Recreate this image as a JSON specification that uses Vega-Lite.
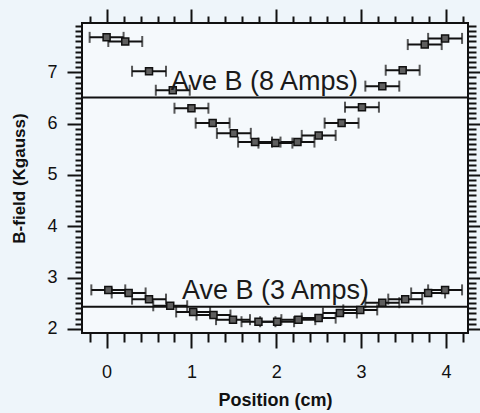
{
  "$schema": "https://vega.github.io/schema/vega-lite/v6.json",
  "width": 386,
  "height": 310,
  "autosize": {"type": "none"},
  "padding": {"left": 82, "top": 23, "right": 12, "bottom": 80},
  "background": "#eef5fa",
  "config": {
    "view": {"stroke": "#111", "strokeWidth": 2, "fill": "#f5f9fc"},
    "font": "Liberation Sans",
    "axis": {"domain": false, "grid": false, "tickColor": "#111", "tickWidth": 2, "labelColor": "#111", "titleColor": "#111"}
  },
  "datasets": {
    "meas": [
      {"series": "8 Amps", "pos": 0.0, "b": 7.68, "xerr": 0.2},
      {"series": "8 Amps", "pos": 0.22, "b": 7.60, "xerr": 0.2},
      {"series": "8 Amps", "pos": 0.5, "b": 7.02, "xerr": 0.2},
      {"series": "8 Amps", "pos": 0.78, "b": 6.65, "xerr": 0.2},
      {"series": "8 Amps", "pos": 1.0, "b": 6.30, "xerr": 0.2},
      {"series": "8 Amps", "pos": 1.25, "b": 6.01, "xerr": 0.2},
      {"series": "8 Amps", "pos": 1.5, "b": 5.81, "xerr": 0.2},
      {"series": "8 Amps", "pos": 1.75, "b": 5.64, "xerr": 0.2},
      {"series": "8 Amps", "pos": 1.99, "b": 5.62, "xerr": 0.2},
      {"series": "8 Amps", "pos": 2.25, "b": 5.64, "xerr": 0.2},
      {"series": "8 Amps", "pos": 2.5, "b": 5.77, "xerr": 0.2},
      {"series": "8 Amps", "pos": 2.77, "b": 6.01, "xerr": 0.2},
      {"series": "8 Amps", "pos": 3.01, "b": 6.32, "xerr": 0.2},
      {"series": "8 Amps", "pos": 3.25, "b": 6.73, "xerr": 0.2},
      {"series": "8 Amps", "pos": 3.49, "b": 7.04, "xerr": 0.2},
      {"series": "8 Amps", "pos": 3.75, "b": 7.54, "xerr": 0.2},
      {"series": "8 Amps", "pos": 3.99, "b": 7.66, "xerr": 0.2},
      {"series": "3 Amps", "pos": 0.02, "b": 2.76, "xerr": 0.2},
      {"series": "3 Amps", "pos": 0.26, "b": 2.70, "xerr": 0.2},
      {"series": "3 Amps", "pos": 0.5, "b": 2.58, "xerr": 0.2},
      {"series": "3 Amps", "pos": 0.75, "b": 2.45, "xerr": 0.2},
      {"series": "3 Amps", "pos": 1.02, "b": 2.33, "xerr": 0.2},
      {"series": "3 Amps", "pos": 1.26, "b": 2.27, "xerr": 0.2},
      {"series": "3 Amps", "pos": 1.49, "b": 2.18, "xerr": 0.2},
      {"series": "3 Amps", "pos": 1.79, "b": 2.14, "xerr": 0.2},
      {"series": "3 Amps", "pos": 2.01, "b": 2.14, "xerr": 0.2},
      {"series": "3 Amps", "pos": 2.26, "b": 2.18, "xerr": 0.2},
      {"series": "3 Amps", "pos": 2.5, "b": 2.21, "xerr": 0.2},
      {"series": "3 Amps", "pos": 2.75, "b": 2.31, "xerr": 0.2},
      {"series": "3 Amps", "pos": 2.99, "b": 2.37, "xerr": 0.2},
      {"series": "3 Amps", "pos": 3.25, "b": 2.51, "xerr": 0.2},
      {"series": "3 Amps", "pos": 3.52, "b": 2.58, "xerr": 0.2},
      {"series": "3 Amps", "pos": 3.79, "b": 2.70, "xerr": 0.2},
      {"series": "3 Amps", "pos": 3.99, "b": 2.76, "xerr": 0.2}
    ],
    "avg": [
      {"series": "8 Amps", "label": "Ave B (8 Amps)", "b": 6.51},
      {"series": "3 Amps", "label": "Ave B (3 Amps)", "b": 2.43}
    ]
  },
  "resolve": {"axis": {"x": "independent", "y": "independent"}},
  "layer": [
    {
      "data": {"name": "avg"},
      "mark": {"type": "rule", "color": "#111", "strokeWidth": 2},
      "encoding": {
        "y": {"field": "b", "type": "quantitative", "scale": {"domain": [1.92, 7.96], "nice": false, "zero": false}, "axis": null}
      }
    },
    {
      "data": {"name": "meas"},
      "transform": [{"filter": "datum.series === '8 Amps'"}],
      "mark": {"type": "errorbar", "ticks": {"size": 11, "thickness": 2, "color": "#111"}, "rule": {"strokeWidth": 2, "color": "#111"}},
      "encoding": {
        "x": {"field": "pos", "type": "quantitative", "scale": {"domain": [-0.29, 4.26], "nice": false, "zero": false},
          "axis": {"orient": "bottom", "values": [0, 1, 2, 3, 4], "tickSize": 15, "labelFontSize": 18, "labelPadding": 15, "title": "Position (cm)", "titleFontSize": 18, "titleFontWeight": "bold", "titlePadding": 10}},
        "xError": {"field": "xerr"},
        "y": {"field": "b", "type": "quantitative", "scale": {"domain": [1.92, 7.96], "nice": false, "zero": false},
          "axis": {"orient": "left", "values": [2, 3, 4, 5, 6, 7], "tickSize": 15, "labelFontSize": 18, "labelPadding": 10, "title": "B-field (Kgauss)", "titleFontSize": 17, "titleFontWeight": "bold", "titlePadding": 18}}
      }
    },
    {
      "data": {"name": "meas"},
      "transform": [{"filter": "datum.series === '3 Amps'"}],
      "mark": {"type": "errorbar", "ticks": {"size": 11, "thickness": 2, "color": "#111"}, "rule": {"strokeWidth": 2, "color": "#111"}},
      "encoding": {
        "x": {"field": "pos", "type": "quantitative", "scale": {"domain": [-0.29, 4.26], "nice": false, "zero": false},
          "axis": {"orient": "top", "values": [0, 1, 2, 3, 4], "tickSize": 14, "labels": false, "title": null}},
        "xError": {"field": "xerr"},
        "y": {"field": "b", "type": "quantitative", "scale": {"domain": [1.92, 7.96], "nice": false, "zero": false},
          "axis": {"orient": "right", "values": [2, 3, 4, 5, 6, 7], "tickSize": 14, "labels": false, "title": null}}
      }
    },
    {
      "data": {"name": "meas"},
      "transform": [{"filter": "datum.series === '8 Amps'"}],
      "mark": {"type": "point", "shape": "square", "filled": true, "size": 49, "fill": "#5e5e5e", "stroke": "#111", "strokeWidth": 1.5, "opacity": 1},
      "encoding": {
        "x": {"field": "pos", "type": "quantitative",
          "axis": {"orient": "bottom", "values": [-0.2, 0.2, 0.4, 0.6, 0.8, 1.2, 1.4, 1.6, 1.8, 2.2, 2.4, 2.6, 2.8, 3.2, 3.4, 3.6, 3.8, 4.2], "tickSize": 9, "labels": false, "title": null}},
        "y": {"field": "b", "type": "quantitative",
          "axis": {"orient": "left", "values": [2.1, 2.2, 2.3, 2.4, 2.5, 2.6, 2.7, 2.8, 2.9, 3.1, 3.2, 3.3, 3.4, 3.5, 3.6, 3.7, 3.8, 3.9, 4.1, 4.2, 4.3, 4.4, 4.5, 4.6, 4.7, 4.8, 4.9, 5.1, 5.2, 5.3, 5.4, 5.5, 5.6, 5.7, 5.8, 5.9, 6.1, 6.2, 6.3, 6.4, 6.5, 6.6, 6.7, 6.8, 6.9, 7.1, 7.2, 7.3, 7.4, 7.5, 7.6, 7.7, 7.8, 7.9], "tickSize": 7, "labels": false, "title": null}}
      }
    },
    {
      "data": {"name": "meas"},
      "transform": [{"filter": "datum.series === '3 Amps'"}],
      "mark": {"type": "point", "shape": "square", "filled": true, "size": 49, "fill": "#5e5e5e", "stroke": "#111", "strokeWidth": 1.5, "opacity": 1},
      "encoding": {
        "x": {"field": "pos", "type": "quantitative",
          "axis": {"orient": "top", "values": [-0.2, 0.2, 0.4, 0.6, 0.8, 1.2, 1.4, 1.6, 1.8, 2.2, 2.4, 2.6, 2.8, 3.2, 3.4, 3.6, 3.8, 4.2], "tickSize": 7, "labels": false, "title": null}},
        "y": {"field": "b", "type": "quantitative",
          "axis": {"orient": "right", "values": [2.1, 2.2, 2.3, 2.4, 2.5, 2.6, 2.7, 2.8, 2.9, 3.1, 3.2, 3.3, 3.4, 3.5, 3.6, 3.7, 3.8, 3.9, 4.1, 4.2, 4.3, 4.4, 4.5, 4.6, 4.7, 4.8, 4.9, 5.1, 5.2, 5.3, 5.4, 5.5, 5.6, 5.7, 5.8, 5.9, 6.1, 6.2, 6.3, 6.4, 6.5, 6.6, 6.7, 6.8, 6.9, 7.1, 7.2, 7.3, 7.4, 7.5, 7.6, 7.7, 7.8, 7.9], "tickSize": 8, "labels": false, "title": null}}
      }
    },
    {
      "data": {"name": "avg"},
      "transform": [{"filter": "datum.series === '8 Amps'"}],
      "mark": {"type": "text", "fontSize": 27, "color": "#1a1a1a", "align": "center", "baseline": "alphabetic", "dy": -7},
      "encoding": {
        "x": {"datum": 1.86, "type": "quantitative", "axis": null},
        "y": {"field": "b", "type": "quantitative", "axis": null},
        "text": {"field": "label"}
      }
    },
    {
      "data": {"name": "avg"},
      "transform": [{"filter": "datum.series === '3 Amps'"}],
      "mark": {"type": "text", "fontSize": 27, "color": "#1a1a1a", "align": "center", "baseline": "alphabetic", "dy": -8},
      "encoding": {
        "x": {"datum": 1.99, "type": "quantitative", "axis": null},
        "y": {"field": "b", "type": "quantitative", "axis": null},
        "text": {"field": "label"}
      }
    }
  ]
}
